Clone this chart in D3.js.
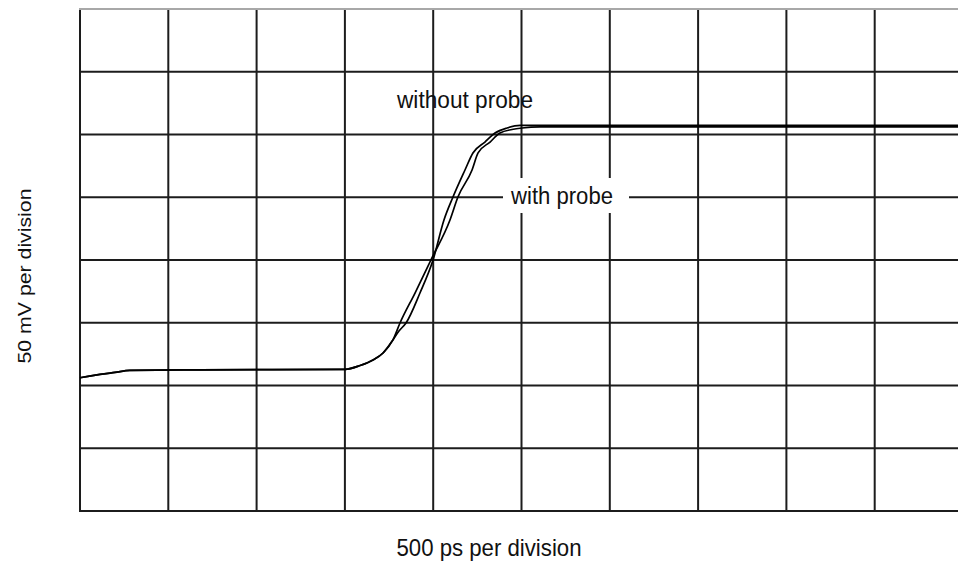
<!DOCTYPE html>
<html>
<head>
<meta charset="utf-8">
<script src="https://cdn.jsdelivr.net/npm/d3@7"></script>
<style>
  html, body { margin: 0; padding: 0; background: #fff; }
  svg { display: block; }
  text { font-family: "Liberation Sans Narrow", "Liberation Sans", Arial, sans-serif; fill: #111; }
</style>
</head>
<body>
<svg id="chart" width="958" height="565"></svg>
<script>
// Oscilloscope step response: 500 ps and 50 mV per division
const timeTicks = d3.range(0, 5001, 500);      // ps, 10 divisions
const voltTicks = d3.range(0, 401, 50);        // mV, 8 divisions

// Trace without the probe attached: time (ps), voltage (mV)
const withoutProbeTime = [0, 45, 113, 198, 283, 680, 1501, 1586, 1659, 1716, 1772,
  1806, 1846, 1925, 1999, 2061, 2112, 2180, 2225, 2293, 2350, 2418, 2492, 5000];
const withoutProbeVolt = [106.2, 107.3, 108.8, 110.4, 112.0, 112.5, 112.9, 115.9, 120.3, 125.9, 136.3,
  143.4, 149.8, 173.7, 200.0, 231.9, 250.2, 271.7, 285.3, 294.0, 301.2, 305.2, 307.2, 307.2];

// Trace with the probe attached
const withProbeTime = [0, 45, 113, 198, 283, 680, 1501, 1586, 1659, 1716, 1772,
  1812, 1897, 1987, 2095, 2140, 2220, 2254, 2322, 2378, 2446, 2503, 2605, 5000];
const withProbeVolt = [106.2, 107.3, 108.8, 110.4, 112.0, 112.5, 112.9, 115.9, 120.3, 125.9, 136.3,
  149.8, 173.7, 200.0, 231.9, 250.2, 271.7, 285.3, 294.0, 301.2, 304.0, 305.2, 306.0, 306.0];

const xTitle = "500 ps per division";
const yTitle = "50 mV per division";
const labelWithout = "without probe";
const labelWith = "with probe";

const svg = d3.select("#chart");
const x = d3.scaleLinear().domain([0, 5000]).range([80, 963]);
const y = d3.scaleLinear().domain([0, 400]).range([511, 9]);

// Graticule
const grid = svg.append("g").attr("stroke", "#1c1c1c").attr("stroke-width", 2).attr("fill", "none");
grid.selectAll("line.v").data(timeTicks).join("line")
  .attr("class", "v")
  .attr("x1", d => x(d)).attr("x2", d => x(d))
  .attr("y1", y(400)).attr("y2", y(0));
grid.selectAll("line.h").data(voltTicks.filter(d => d < 400)).join("line")
  .attr("class", "h")
  .attr("x1", x(0) - 1).attr("x2", x(5000))
  .attr("y1", d => y(d)).attr("y2", d => y(d));
// top frame edge is lighter
svg.append("line")
  .attr("x1", x(0) - 1).attr("x2", x(5000))
  .attr("y1", y(400)).attr("y2", y(400))
  .attr("stroke", "#a8a8a8").attr("stroke-width", 2);

// Traces
const line = d3.line().x(d => x(d[0])).y(d => y(d[1])).curve(d3.curveMonotoneX);
const series = [
  d3.zip(withoutProbeTime, withoutProbeVolt),
  d3.zip(withProbeTime, withProbeVolt)
];
svg.append("g").selectAll("path").data(series).join("path")
  .attr("d", line)
  .attr("fill", "none")
  .attr("stroke", "#000")
  .attr("stroke-width", 1.7)
  .attr("stroke-linejoin", "round");

// Trace labels
svg.append("text")
  .attr("x", 397).attr("y", 108)
  .attr("font-size", 23)
  .attr("textLength", 136).attr("lengthAdjust", "spacingAndGlyphs")
  .text(labelWithout);

const withLabel = svg.append("g");
withLabel.append("rect")
  .attr("x", 503).attr("y", 178).attr("width", 126).attr("height", 35)
  .attr("fill", "#fff");
withLabel.append("text")
  .attr("x", 511).attr("y", 204)
  .attr("font-size", 23)
  .attr("textLength", 102).attr("lengthAdjust", "spacingAndGlyphs")
  .text(labelWith);

// Axis titles
svg.append("text")
  .attr("x", 489).attr("y", 556)
  .attr("text-anchor", "middle")
  .attr("font-size", 24)
  .attr("textLength", 185).attr("lengthAdjust", "spacingAndGlyphs")
  .text(xTitle);

svg.append("text")
  .attr("transform", "translate(31,276) rotate(-90)")
  .attr("text-anchor", "middle")
  .attr("font-size", 19)
  .attr("textLength", 175).attr("lengthAdjust", "spacingAndGlyphs")
  .text(yTitle);
</script>
</body>
</html>
